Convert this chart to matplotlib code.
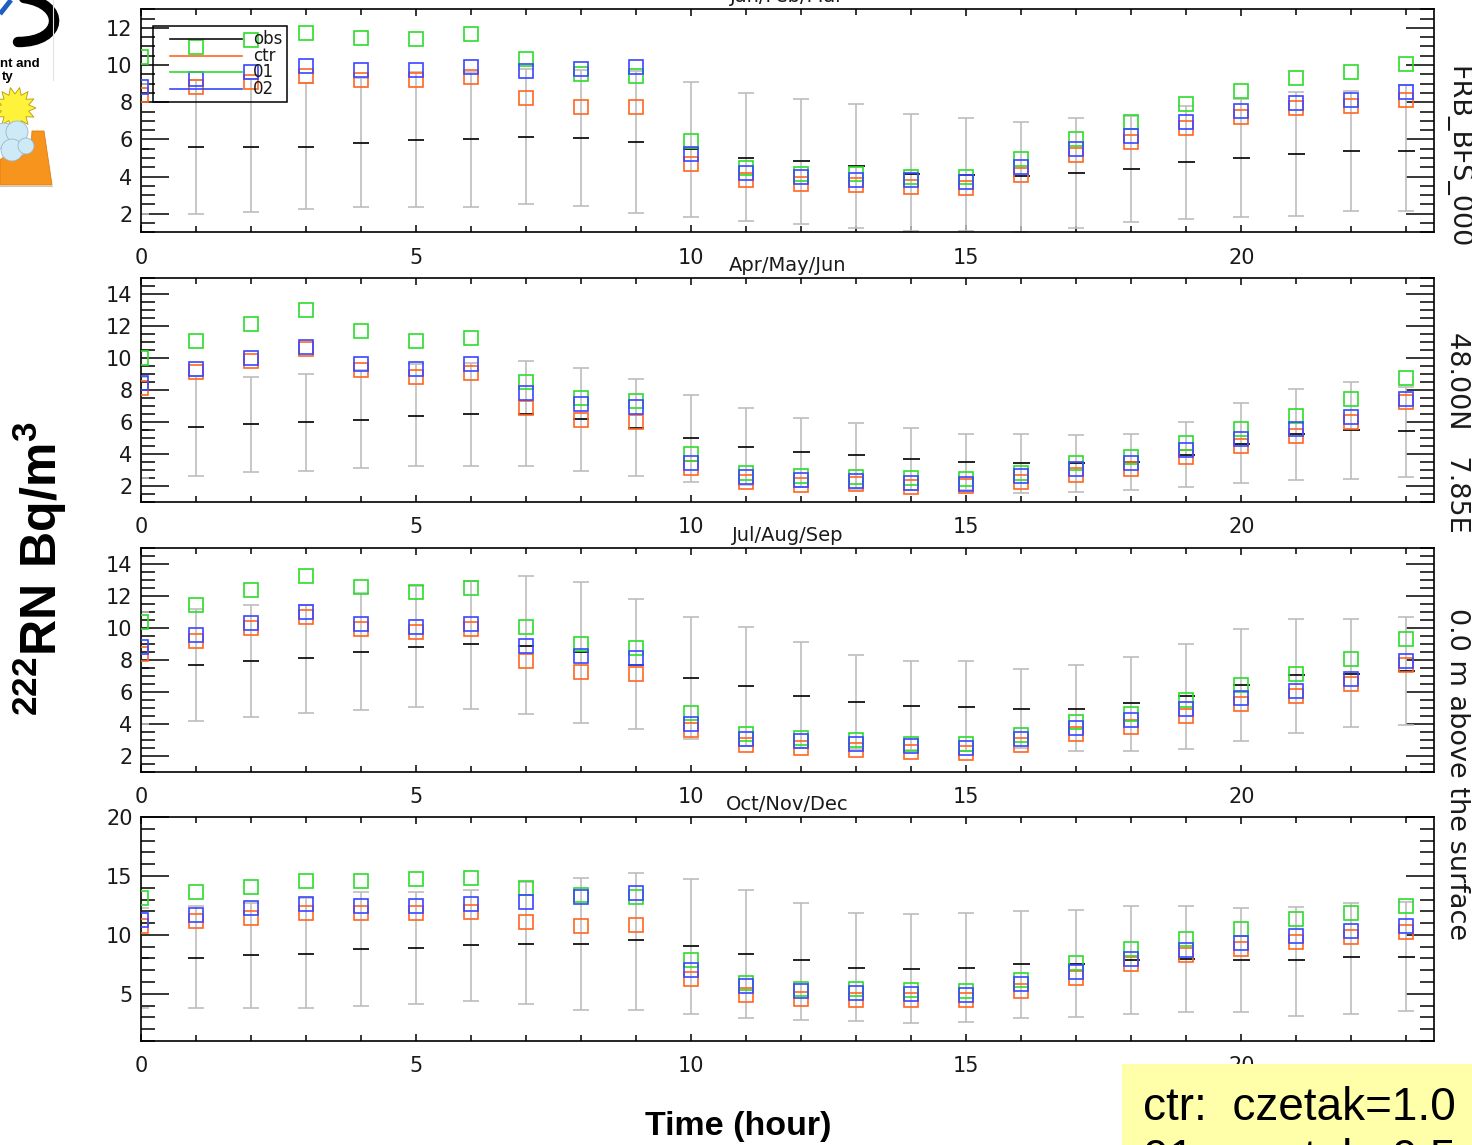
import numpy as np
import matplotlib
matplotlib.use('Agg')
import matplotlib.pyplot as plt
from matplotlib.patches import Rectangle, Polygon, PathPatch, Circle
from matplotlib.path import Path
from matplotlib.lines import Line2D
from matplotlib.ticker import MultipleLocator, FormatStrFormatter

plt.rcParams['mathtext.fontset'] = 'custom'
plt.rcParams['mathtext.rm'] = 'Liberation Sans'
plt.rcParams['mathtext.bf'] = 'Liberation Sans:bold'

# ---------------- data ----------------
hours = np.arange(24)
seasons = ['Jan/Feb/Mar', 'Apr/May/Jun', 'Jul/Aug/Sep', 'Oct/Nov/Dec']
legend_labels = ['obs', 'ctr', '01', '02']
xtick_values = [0, 5, 10, 15, 20]
xtick_labels = ['0', '5', '10', '15', '20']

# Jan/Feb/Mar
jfm_obs = [5.5, 5.6, 5.6, 5.6, 5.82, 5.96, 6.0, 6.14, 6.07, 5.84, 5.46, 5.0,
           4.84, 4.57, 4.16, 4.1, 4.03, 4.18, 4.39, 4.77, 5.0, 5.22, 5.38, 5.38]
jfm_low = [2.0, 2.0, 2.07, 2.27, 2.36, 2.36, 2.36, 2.5, 2.41, 2.05, 1.82, 1.6,
           1.46, 1.21, 1.06, 1.06, 1.0, 1.21, 1.53, 1.73, 1.82, 1.9, 2.14, 2.14]
jfm_high = [9.0, 9.2, 9.26, 9.03, 9.33, 9.6, 9.65, 9.78, 9.71, 9.69, 9.1, 8.49,
            8.18, 7.89, 7.35, 7.14, 6.95, 7.14, 7.28, 7.8, 8.17, 8.57, 8.63, 8.93]
jfm_ctr = [8.39, 8.81, 9.11, 9.42, 9.17, 9.2, 9.35, 8.21, 7.76, 7.76, 4.7, 3.8,
           3.62, 3.53, 3.44, 3.4, 4.1, 5.15, 5.87, 6.59, 7.22, 7.67, 7.8, 8.12]
jfm_01 = [10.43, 10.97, 11.33, 11.7, 11.48, 11.4, 11.66, 10.34, 9.53, 9.42, 5.91, 4.47,
          4.16, 4.12, 3.98, 3.98, 4.92, 6.0, 6.91, 7.89, 8.63, 9.3, 9.6, 10.05]
jfm_02 = [8.81, 9.26, 9.65, 9.96, 9.71, 9.75, 9.92, 9.69, 9.78, 9.92, 5.24, 4.2,
          3.98, 3.84, 3.8, 3.71, 4.52, 5.48, 6.18, 6.91, 7.53, 7.98, 8.12, 8.54]

# Apr/May/Jun
amj_obs = [5.5, 5.67, 5.85, 6.02, 6.13, 6.4, 6.48, 6.48, 6.19, 5.6, 4.98, 4.46,
           4.1, 3.94, 3.67, 3.5, 3.42, 3.42, 3.5, 3.94, 4.63, 5.25, 5.5, 5.44]
amj_low = [2.52, 2.63, 2.9, 2.96, 3.15, 3.25, 3.25, 3.25, 2.96, 2.63, 2.27, 2.06,
           1.96, 1.81, 1.75, 1.75, 1.58, 1.65, 1.75, 1.92, 2.17, 2.38, 2.44, 2.54]
amj_high = [8.8, 8.88, 8.83, 9.0, 9.25, 9.63, 9.67, 9.81, 9.35, 8.67, 7.69, 6.85,
            6.23, 5.96, 5.6, 5.25, 5.25, 5.17, 5.25, 6.02, 7.17, 8.06, 8.48, 8.21]
amj_ctr = [8.1, 9.1, 9.83, 10.54, 9.25, 8.83, 9.04, 6.85, 6.13, 5.98, 3.1, 2.27,
           2.06, 2.1, 1.96, 2.0, 2.27, 2.69, 3.04, 3.83, 4.5, 5.13, 6.02, 7.27]
amj_01 = [9.98, 11.06, 12.13, 13.0, 11.69, 11.06, 11.25, 8.52, 7.48, 7.31, 4.02, 2.83,
          2.65, 2.55, 2.48, 2.42, 2.83, 3.46, 3.83, 4.71, 5.54, 6.38, 7.42, 8.73]
amj_02 = [8.42, 9.29, 9.98, 10.71, 9.63, 9.31, 9.6, 7.83, 7.13, 6.96, 3.42, 2.54,
          2.38, 2.3, 2.21, 2.13, 2.63, 3.04, 3.46, 4.25, 4.92, 5.54, 6.33, 7.42]

# Jul/Aug/Sep
jas_obs = [7.5, 7.7, 7.95, 8.12, 8.47, 8.83, 8.99, 8.89, 8.47, 7.7, 6.9, 6.38,
           5.76, 5.4, 5.13, 5.07, 4.96, 4.96, 5.3, 5.76, 6.45, 7.05, 7.11, 7.32]
jas_low = [4.0, 4.19, 4.46, 4.71, 4.88, 5.09, 4.96, 4.65, 4.09, 3.67, 3.04, 2.63,
           2.48, 2.42, 2.35, 2.31, 2.52, 2.31, 2.31, 2.42, 2.94, 3.46, 3.82, 3.94]
jas_high = [11.0, 11.19, 11.46, 11.46, 12.19, 12.61, 12.96, 13.23, 12.86, 11.81, 10.66, 10.04,
            9.1, 8.3, 7.95, 7.95, 7.43, 7.7, 8.2, 8.99, 9.93, 10.56, 10.56, 10.66]
jas_ctr = [8.37, 9.2, 10.0, 10.66, 9.93, 9.72, 9.93, 7.91, 7.28, 7.11, 3.62, 2.69,
           2.48, 2.35, 2.27, 2.21, 2.69, 3.36, 3.82, 4.51, 5.24, 5.76, 6.53, 7.7]
jas_01 = [10.39, 11.46, 12.4, 13.27, 12.54, 12.23, 12.5, 10.04, 8.99, 8.74, 4.71, 3.36,
          3.11, 3.0, 2.77, 2.73, 3.32, 4.13, 4.65, 5.49, 6.43, 7.11, 8.05, 9.31]
jas_02 = [8.83, 9.56, 10.29, 10.98, 10.25, 10.04, 10.25, 8.89, 8.26, 8.1, 4.0, 3.09,
          2.94, 2.77, 2.63, 2.52, 3.04, 3.73, 4.23, 4.92, 5.65, 6.07, 6.8, 7.91]

# Oct/Nov/Dec
ond_obs = [8.0, 8.07, 8.32, 8.41, 8.78, 8.92, 9.12, 9.26, 9.26, 9.55, 9.03, 8.41,
           7.84, 7.22, 7.13, 7.22, 7.5, 7.56, 7.84, 7.98, 7.84, 7.84, 8.13, 8.13]
ond_low = [3.8, 3.78, 3.78, 3.78, 4.0, 4.15, 4.38, 4.15, 3.64, 3.64, 3.3, 2.93,
           2.81, 2.73, 2.5, 2.59, 2.93, 3.07, 3.3, 3.44, 3.44, 3.15, 3.3, 3.52]
ond_high = [12.3, 12.44, 12.73, 13.1, 13.66, 13.66, 13.8, 14.52, 14.86, 15.23, 14.74, 13.8,
            12.73, 11.88, 11.76, 11.88, 12.02, 12.1, 12.47, 12.47, 12.24, 12.39, 12.73, 12.81]
ond_ctr = [10.77, 11.19, 11.45, 11.82, 11.82, 11.82, 11.9, 11.1, 10.74, 10.88, 6.28, 4.94,
           4.57, 4.49, 4.49, 4.49, 5.28, 6.36, 7.56, 8.27, 8.84, 9.4, 9.83, 10.26]
ond_01 = [13.15, 13.64, 14.09, 14.57, 14.57, 14.72, 14.8, 14.0, 13.38, 13.24, 7.84, 5.91,
          5.43, 5.43, 5.34, 5.28, 6.19, 7.61, 8.84, 9.69, 10.54, 11.34, 11.82, 12.44]
ond_02 = [11.25, 11.68, 12.24, 12.59, 12.44, 12.44, 12.59, 12.81, 13.18, 13.58, 7.05, 5.63,
          5.23, 5.06, 5.0, 4.94, 5.85, 6.85, 7.98, 8.75, 9.32, 9.89, 10.31, 10.74]

panels = [
    (jfm_obs, jfm_low, jfm_high, jfm_ctr, jfm_01, jfm_02),
    (amj_obs, amj_low, amj_high, amj_ctr, amj_01, amj_02),
    (jas_obs, jas_low, jas_high, jas_ctr, jas_01, jas_02),
    (ond_obs, ond_low, ond_high, ond_ctr, ond_01, ond_02),
]

# ---------------- layout / style ----------------
W, H = 1472, 1145
fig = plt.figure(figsize=(W / 100, H / 100), dpi=100)
fig.patch.set_facecolor('white')

C_OBS = '#111111'
C_CTR = '#ff6622'
C_01 = '#2edc2e'
C_02 = '#3a46ff'
C_ERR = '#bdbdbd'
TXT = '#1a1a1a'
TICKFONT = dict(family='DejaVu Sans', weight='normal')

panel_px = [(9.3, 232.3), (278, 502), (548, 772), (817, 1041)]
ylims = [(1, 13), (1, 15), (1, 15), (1, 20)]
ymajor = [2, 2, 2, 5]
yminor = [0.5, 0.5, 0.5, 1]
x_left, x_right = 141, 1434

axes = []
for i, (top, bot) in enumerate(panel_px):
    ax = fig.add_axes([x_left / W, 1 - bot / H, (x_right - x_left) / W, (bot - top) / H])
    obs, low, high, ctr, e01, e02 = [np.asarray(a, dtype=float) for a in panels[i]]
    ax.errorbar(hours, obs, yerr=[obs - low, high - obs], fmt='none', ecolor=C_ERR,
                elinewidth=1.2, capsize=5.8, capthick=1.2, zorder=2)
    ax.hlines(obs, hours - 0.15, hours + 0.15, colors=C_OBS, lw=1.3, zorder=3)
    for vals, col in [(ctr, C_CTR), (e01, C_01), (e02, C_02)]:
        ax.plot(hours, vals, ls='none', marker='s', ms=10, mfc='none', mec=col,
                mew=1.2, zorder=4)
    ax.set_xlim(0, 23.5)
    ax.set_ylim(*ylims[i])
    ax.set_xticks(xtick_values)
    ax.set_xticklabels(xtick_labels)
    ax.set_xticks(hours, minor=True)
    ax.yaxis.set_major_locator(MultipleLocator(ymajor[i]))
    ax.yaxis.set_minor_locator(MultipleLocator(yminor[i]))
    ax.yaxis.set_major_formatter(FormatStrFormatter('%d'))
    ax.tick_params(axis='y', which='major', direction='in', length=20, width=1.1,
                   left=True, right=True, labelsize=15, pad=6)
    ax.tick_params(axis='y', which='minor', direction='in', length=10, width=1.1,
                   left=True, right=True)
    ax.tick_params(axis='x', which='major', direction='in', length=5, width=1.1,
                   top=True, bottom=True, labelsize=15, pad=11)
    ax.tick_params(axis='x', which='minor', direction='in', length=4, width=1.1,
                   top=True, bottom=True)
    for lab in ax.get_xticklabels() + ax.get_yticklabels():
        lab.set_fontfamily('DejaVu Sans')
        lab.set_color(TXT)
    for sp in ax.spines.values():
        sp.set_linewidth(1.2)
    ax.set_title(seasons[i], fontsize=14, pad=5, color=TXT, **TICKFONT)
    axes.append(ax)

# legend (panel 1), drawn in axes fraction coordinates
ax0 = axes[0]
ax0.add_patch(Rectangle((0.0093, 0.584), 0.1036, 0.341, transform=ax0.transAxes,
                        fill=False, ec='black', lw=1.1, zorder=6))
for yf, col, lab in zip([0.868, 0.792, 0.719, 0.643], [C_OBS, C_CTR, C_01, C_02], legend_labels):
    ax0.add_line(Line2D([0.0224, 0.0781], [yf, yf], transform=ax0.transAxes, color=col,
                        lw=1.2, zorder=6))
    ax0.text(0.0866, yf, lab, transform=ax0.transAxes, ha='left', va='center',
             fontsize=12, color=TXT, zorder=6, **TICKFONT)

# ---------------- overlay (pixel coordinates) ----------------
ov = fig.add_axes([0, 0, 1, 1], zorder=10)
ov.set_xlim(0, W)
ov.set_ylim(H, 0)
ov.axis('off')
ov.patch.set_alpha(0)

# logo fragment (top-left)
ov.plot([0, 11], [14, 0], color='#1f5fbf', lw=3.5, solid_capstyle='butt')
verts = [(24, -2), (66, 4), (64, 42), (18, 42)]
ov.add_patch(PathPatch(Path(verts, [Path.MOVETO, Path.CURVE4, Path.CURVE4, Path.CURVE4]),
                       fill=False, ec='black', lw=7.5, capstyle='round'))
ov.plot([53, 53], [0, 80], color='#e4e4e4', lw=0.8)
ov.text(0, 67, 'nt and', fontsize=9.5, fontweight='bold', family='Liberation Sans',
        ha='left', va='baseline')
ov.text(2, 80, 'ty', fontsize=9.5, fontweight='bold', family='Liberation Sans',
        ha='left', va='baseline')
ang = np.linspace(0, 2 * np.pi, 29)[:-1]
rad = np.where(np.arange(28) % 2 == 0, 21, 14)
sun = np.column_stack([15 + rad * np.cos(ang), 108 + rad * np.sin(ang)])
ov.add_patch(Polygon(sun, closed=True, fc='#fff23a', ec='#b89a00', lw=0.6))
ov.add_patch(Polygon([(0, 185), (52, 185), (44, 131), (32, 131), (31, 148), (18, 160),
                      (10, 152), (0, 160)], closed=True, fc='#f7941d', ec='#e07a10', lw=0.6))
for cx, cy, r in [(4, 136, 13), (17, 132, 11), (12, 150, 11), (26, 146, 8)]:
    ov.add_patch(Circle((cx, cy), r, fc='#cfeaf7', ec='#9ab8c8', lw=0.6))
ov.plot([0, 52], [185.5, 185.5], color='#c8c8c8', lw=0.8)

# right-hand station annotation
ov.text(1457, 157, 'FRB_BFS_000', rotation=-90, ha='center', va='center', fontsize=19.5,
        color=TXT, **TICKFONT)
ov.text(1457, 432, '48.00N   7.85E', rotation=-90, ha='center', va='center', fontsize=19.5,
        color=TXT, **TICKFONT)
ov.text(1457, 774, '0.0 m above the surface', rotation=-90, ha='center', va='center',
        fontsize=19.5, color=TXT, **TICKFONT)

# axis labels
ov.text(40, 569, r'$^{\mathbf{222}}\mathbf{RN\ Bq/m}^{\mathbf{3}}$', rotation=90,
        ha='center', va='center', fontsize=36)
ov.text(738, 1127, 'Time (hour)', ha='center', va='center', fontsize=24.5,
        fontweight='bold', family='Liberation Sans')

# yellow note box
ov.add_patch(Rectangle((1122, 1064), W - 1122, H - 1064, fc='#ffffaa', ec='none', zorder=5))
ov.text(1143, 1120, 'ctr:  czetak=1.0', ha='left', va='baseline', fontsize=33,
        family='Liberation Sans', zorder=6)
ov.text(1143, 1172, '01:  czetak=0.5', ha='left', va='baseline', fontsize=33,
        family='Liberation Sans', zorder=6)

fig.savefig('out.png', dpi=100)
